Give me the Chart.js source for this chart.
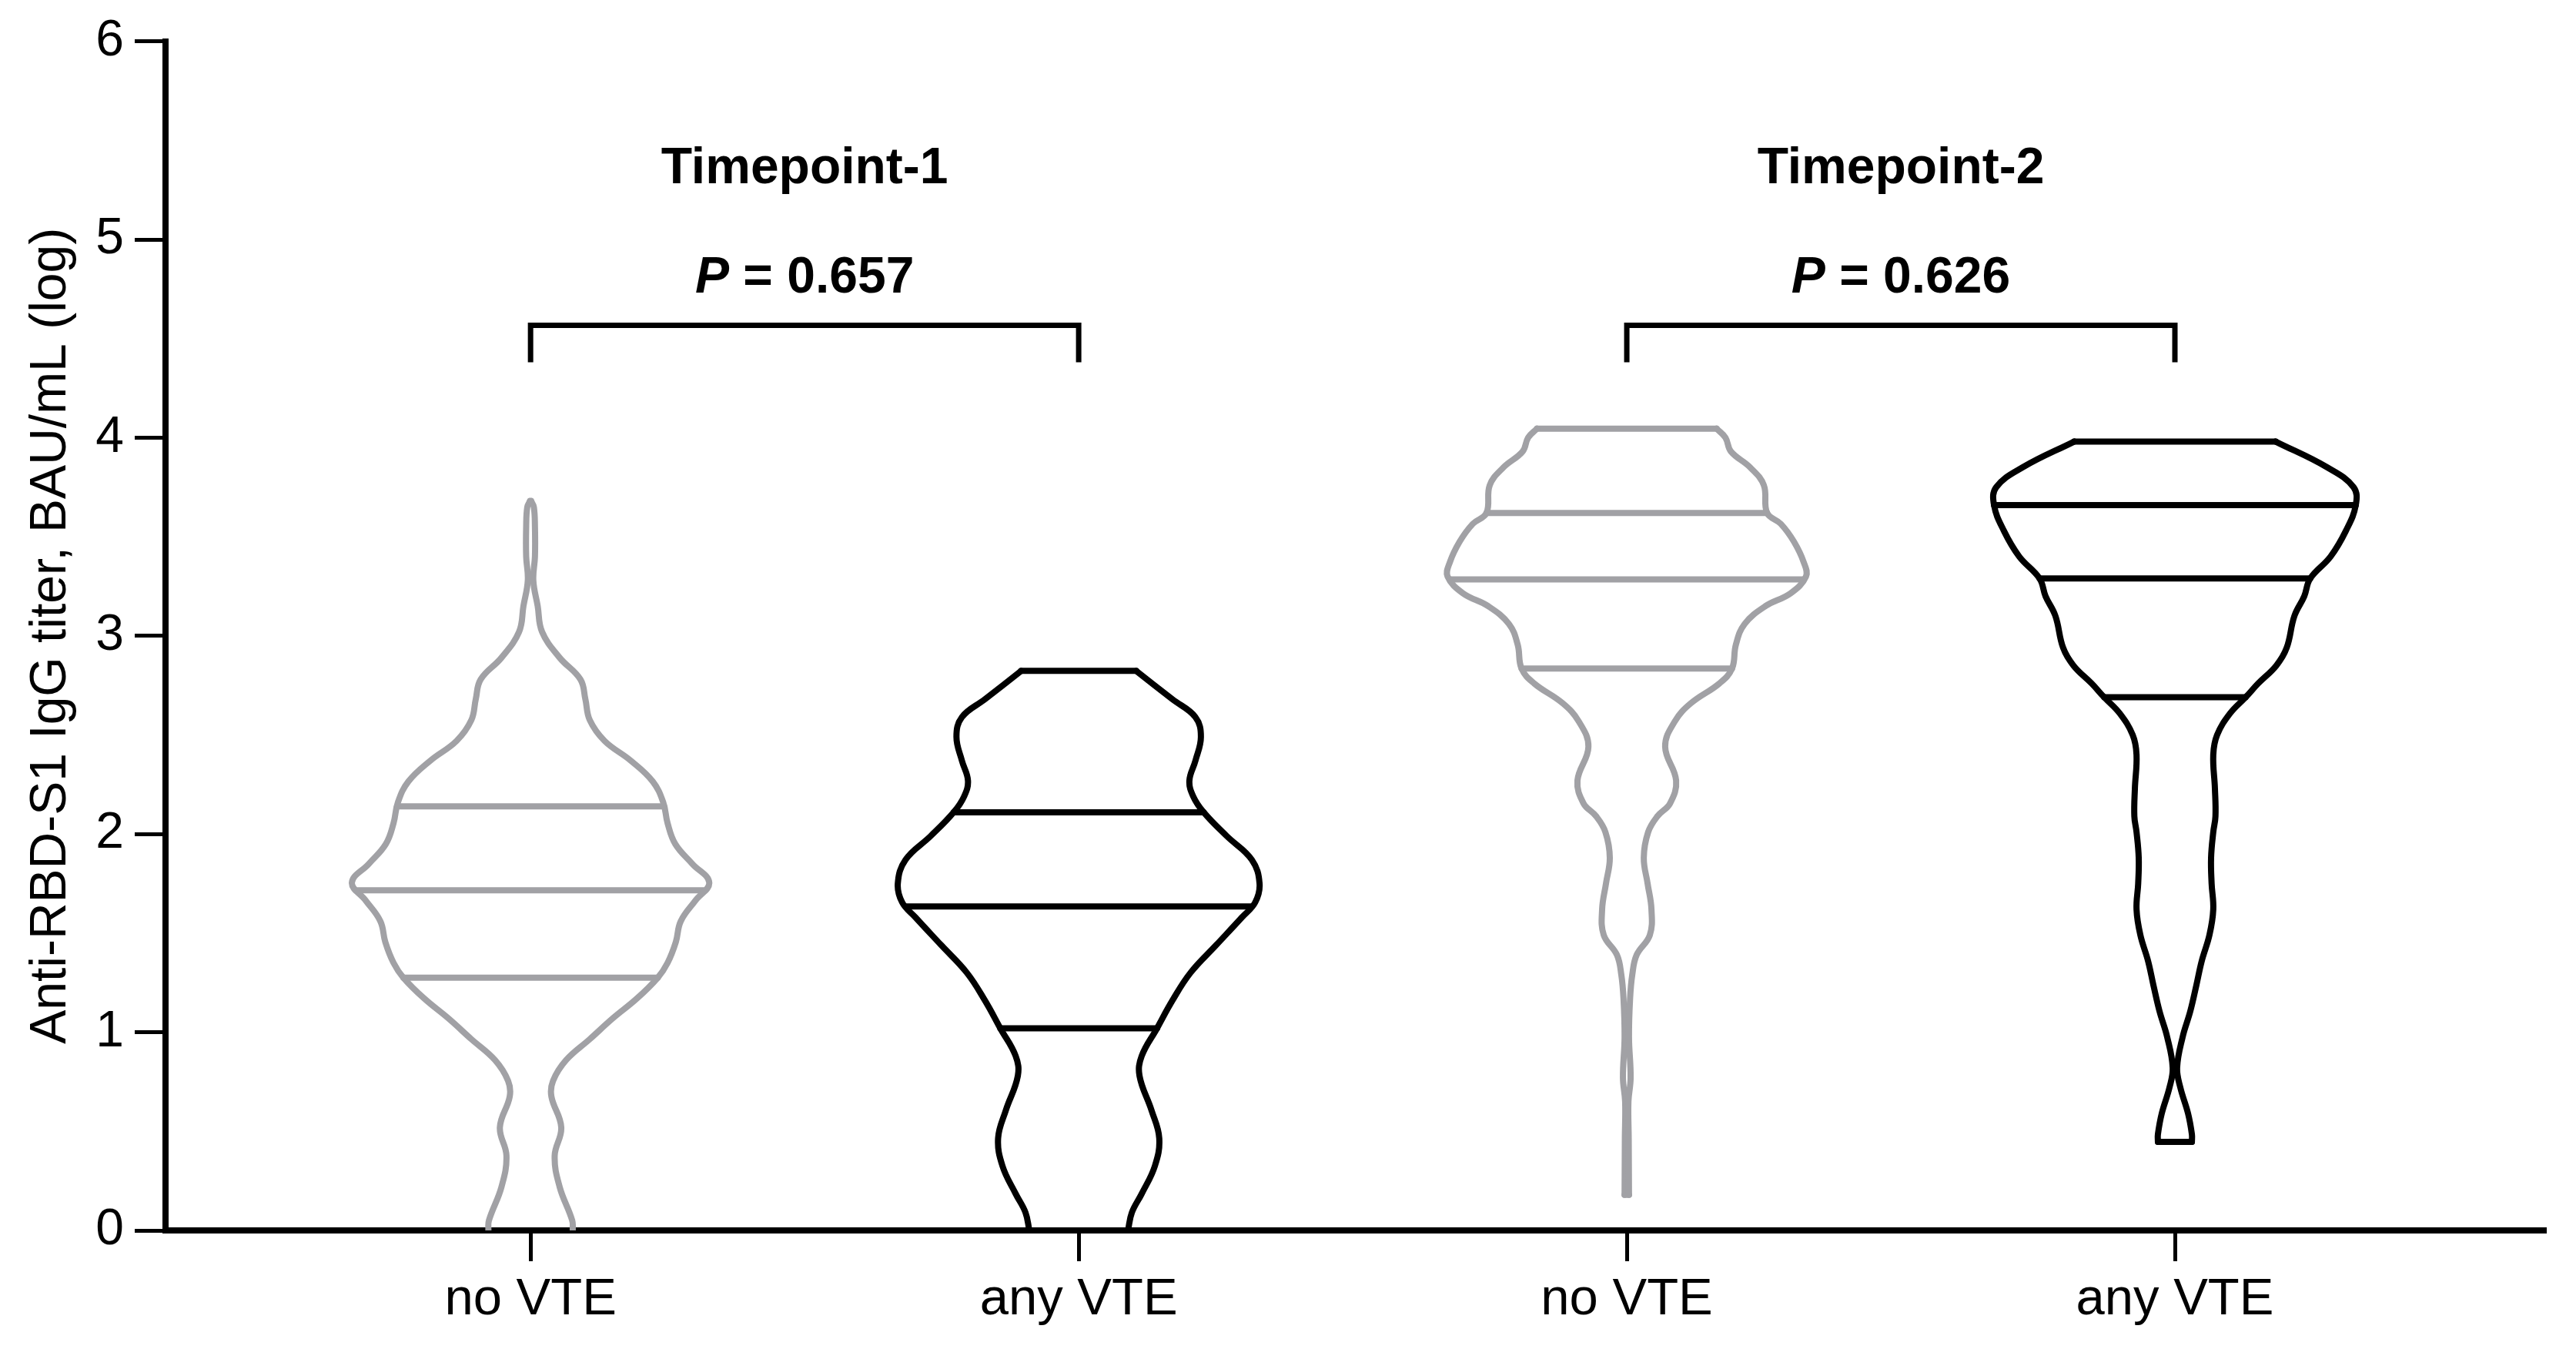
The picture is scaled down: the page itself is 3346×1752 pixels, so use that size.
<!DOCTYPE html>
<html>
<head>
<meta charset="utf-8">
<script src="https://cdn.jsdelivr.net/npm/chart.js@4.4.1/dist/chart.umd.min.js"></script>
<style>
  html, body { margin: 0; padding: 0; background: #fff; }
  canvas { display: block; }
</style>
</head>
<body>
<canvas id="chart" width="3346" height="1752"></canvas>
<script>
// Categories and labels
const categories = ['no VTE', 'any VTE', 'no VTE', 'any VTE'];
const timepoints = ['Timepoint-1', 'Timepoint-2'];
const pValues = ['0.657', '0.626'];
const yTickValues = [0, 1, 2, 3, 4, 5, 6];

// Violin outlines: titer level (log) and density half-width at that level (category units)
const noVte1Levels = [0, 0.05, 0.22, 0.377, 0.52, 0.676, 0.755, 0.86, 0.965, 1.07, 1.17, 1.275, 1.35, 1.455, 1.56, 1.665, 1.755, 1.85, 1.95, 2.055, 2.16, 2.265, 2.37, 2.47, 2.575, 2.68, 2.78, 2.89, 3.02, 3.15, 3.28, 3.40, 3.55, 3.65, 3.68];
const noVte1Width = [0.077, 0.076, 0.053, 0.044, 0.056, 0.038, 0.041, 0.065, 0.108, 0.150, 0.194, 0.232, 0.250, 0.265, 0.274, 0.301, 0.326, 0.295, 0.264, 0.250, 0.242, 0.223, 0.183, 0.135, 0.108, 0.100, 0.091, 0.053, 0.021, 0.013, 0.005, 0.008, 0.008, 0.006, 0.001];

const anyVte1Levels = [0, 0.09, 0.185, 0.325, 0.465, 0.605, 0.78, 0.88, 1.02, 1.16, 1.30, 1.44, 1.58, 1.655, 1.75, 1.87, 1.99, 2.11, 2.19, 2.27, 2.37, 2.49, 2.59, 2.68, 2.823];
const anyVte1Width = [0.090, 0.097, 0.115, 0.139, 0.147, 0.133, 0.111, 0.115, 0.143, 0.171, 0.204, 0.251, 0.298, 0.322, 0.330, 0.316, 0.270, 0.228, 0.209, 0.202, 0.213, 0.223, 0.213, 0.171, 0.105];

const noVte2Levels = [0.18, 0.46, 0.65, 0.77, 0.975, 1.17, 1.29, 1.39, 1.49, 1.62, 1.75, 1.88, 2.01, 2.09, 2.155, 2.27, 2.44, 2.57, 2.66, 2.76, 2.835, 2.955, 3.06, 3.15, 3.215, 3.30, 3.37, 3.475, 3.565, 3.62, 3.76, 3.85, 3.93, 4.00, 4.045];
const noVte2Width = [0.004, 0.0035, 0.003, 0.007, 0.004, 0.006, 0.010, 0.018, 0.042, 0.045, 0.038, 0.031, 0.039, 0.056, 0.079, 0.090, 0.070, 0.088, 0.117, 0.169, 0.192, 0.199, 0.215, 0.253, 0.299, 0.327, 0.323, 0.305, 0.281, 0.256, 0.250, 0.225, 0.190, 0.180, 0.164];

const anyVte2Levels = [0.447, 0.485, 0.59, 0.72, 0.82, 0.975, 1.105, 1.235, 1.36, 1.49, 1.62, 1.75, 1.88, 2.01, 2.09, 2.23, 2.40, 2.50, 2.61, 2.69, 2.76, 2.85, 2.94, 3.10, 3.20, 3.29, 3.40, 3.53, 3.66, 3.75, 3.85, 3.98];
const anyVte2Width = [0.031, 0.031, 0.024, 0.010, 0.004, 0.014, 0.028, 0.039, 0.049, 0.063, 0.070, 0.067, 0.066, 0.070, 0.074, 0.073, 0.070, 0.077, 0.101, 0.129, 0.152, 0.185, 0.204, 0.218, 0.236, 0.247, 0.284, 0.312, 0.330, 0.326, 0.278, 0.184];

// Quartiles (Q1, median, Q3)
const noVte1Quartiles = [1.275, 1.716, 2.14];
const anyVte1Quartiles = [1.02, 1.635, 2.11];
const noVte2Quartiles = [2.835, 3.285, 3.62];
const anyVte2Quartiles = [2.69, 3.29, 3.66];

// Significance brackets
const bracketTop = 4.567;
const bracketFoot = 4.38;

const GRAY = '#a1a1a5';
const BLACK = '#000000';
const FONT = "'Liberation Sans', Arial, Helvetica, sans-serif";

// half width at a level
function widthAt(levels, widths, q) {
    for (let i = 0; i < levels.length - 1; i++) {
        if (q >= levels[i] && q <= levels[i + 1]) {
            const t = (q - levels[i]) / (levels[i + 1] - levels[i]);
            return widths[i] + t * (widths[i + 1] - widths[i]);
        }
    }
    return widths[widths.length - 1];
}

function lineSet(points, color, tension) {
    return {
        data: points,
        showLine: true,
        borderColor: color,
        borderWidth: 8,
        pointRadius: 0,
        pointHoverRadius: 0,
        tension: tension,
        fill: false,
        borderJoinStyle: 'round',
        borderCapStyle: 'round'
    };
}

function violin(center, levels, widths, quartiles, color) {
    const sets = [];
    const right = levels.map((y, i) => ({ x: center + widths[i], y: y }));
    const left = levels.map((y, i) => ({ x: center - widths[i], y: y }));
    sets.push(lineSet(right, color, 0.4));
    sets.push(lineSet(left, color, 0.4));
    // flat top, and flat bottom when the violin stops above the axis
    const n = levels.length - 1;
    sets.push(lineSet([left[n], right[n]], color, 0));
    if (levels[0] > 0) {
        sets.push(lineSet([left[0], right[0]], color, 0));
    }
    quartiles.forEach(q => {
        const w = widthAt(levels, widths, q);
        sets.push(lineSet([{ x: center - w, y: q }, { x: center + w, y: q }], color, 0));
    });
    return sets;
}

function bracket(a, b) {
    const set = lineSet([
        { x: a, y: bracketFoot }, { x: a, y: bracketTop },
        { x: b, y: bracketTop }, { x: b, y: bracketFoot }
    ], BLACK, 0);
    set.borderWidth = 7;
    set.borderJoinStyle = 'miter';
    set.borderCapStyle = 'butt';
    return set;
}

const datasets = [].concat(
    violin(1, noVte1Levels, noVte1Width, noVte1Quartiles, GRAY),
    violin(2, anyVte1Levels, anyVte1Width, anyVte1Quartiles, BLACK),
    violin(3, noVte2Levels, noVte2Width, noVte2Quartiles, GRAY),
    violin(4, anyVte2Levels, anyVte2Width, anyVte2Quartiles, BLACK),
    [bracket(1, 2), bracket(3, 4)]
);

// Group titles and P values above the brackets
const annotations = {
    id: 'annotations',
    afterDatasetsDraw(chart) {
        const ctx = chart.ctx;
        const x = chart.scales.x;
        const y = chart.scales.y;
        ctx.save();
        ctx.fillStyle = BLACK;
        ctx.textBaseline = 'alphabetic';
        timepoints.forEach((label, i) => {
            const cx = x.getPixelForValue(1.5 + 2 * i);
            ctx.font = 'bold 66px ' + FONT;
            ctx.textAlign = 'center';
            ctx.fillText(label, cx, y.getPixelForValue(5.282));

            const italicFont = 'italic bold 66px ' + FONT;
            const boldFont = 'bold 66px ' + FONT;
            const rest = ' = ' + pValues[i];
            ctx.font = italicFont;
            const pw = ctx.measureText('P').width;
            ctx.font = boldFont;
            const rw = ctx.measureText(rest).width;
            const start = cx - (pw + rw) / 2;
            const py = y.getPixelForValue(4.73);
            ctx.textAlign = 'left';
            ctx.font = italicFont;
            ctx.fillText('P', start, py);
            ctx.font = boldFont;
            ctx.fillText(rest, start + pw, py);
        });
        ctx.restore();
    }
};

new Chart(document.getElementById('chart'), {
    type: 'scatter',
    data: { datasets: datasets },
    options: {
        responsive: false,
        animation: false,
        devicePixelRatio: 1,
        layout: { padding: { top: 53, right: 39, left: 0, bottom: 0 } },
        plugins: {
            legend: { display: false },
            tooltip: { enabled: false }
        },
        scales: {
            x: {
                type: 'linear',
                min: 0.334,
                max: 4.677,
                z: 1,
                afterBuildTicks: (scale) => {
                    scale.ticks = categories.map((c, i) => ({ value: i + 1 }));
                },
                afterFit: (scale) => { scale.height = 154; },
                border: { display: true, color: BLACK, width: 8 },
                grid: {
                    drawOnChartArea: false,
                    drawTicks: true,
                    tickLength: 40,
                    tickWidth: 5,
                    tickColor: BLACK
                },
                ticks: {
                    autoSkip: false,
                    maxRotation: 0,
                    padding: 10,
                    color: BLACK,
                    font: { family: FONT, size: 67 },
                    callback: (value) => categories[Math.round(value) - 1]
                }
            },
            y: {
                type: 'linear',
                min: 0,
                max: 6,
                z: 1,
                afterBuildTicks: (scale) => {
                    scale.ticks = yTickValues.map(v => ({ value: v }));
                },
                afterFit: (scale) => { scale.width = 215; },
                border: { display: true, color: BLACK, width: 8 },
                grid: {
                    drawOnChartArea: false,
                    drawTicks: true,
                    tickLength: 40,
                    tickWidth: 5,
                    tickColor: BLACK
                },
                ticks: {
                    padding: 14,
                    color: BLACK,
                    font: { family: FONT, size: 66 }
                },
                title: {
                    display: true,
                    text: 'Anti-RBD-S1 IgG titer, BAU/mL (log)',
                    color: BLACK,
                    font: { family: FONT, size: 66 },
                    padding: { top: 27, bottom: 0 }
                }
            }
        }
    },
    plugins: [annotations]
});
</script>
</body>
</html>
